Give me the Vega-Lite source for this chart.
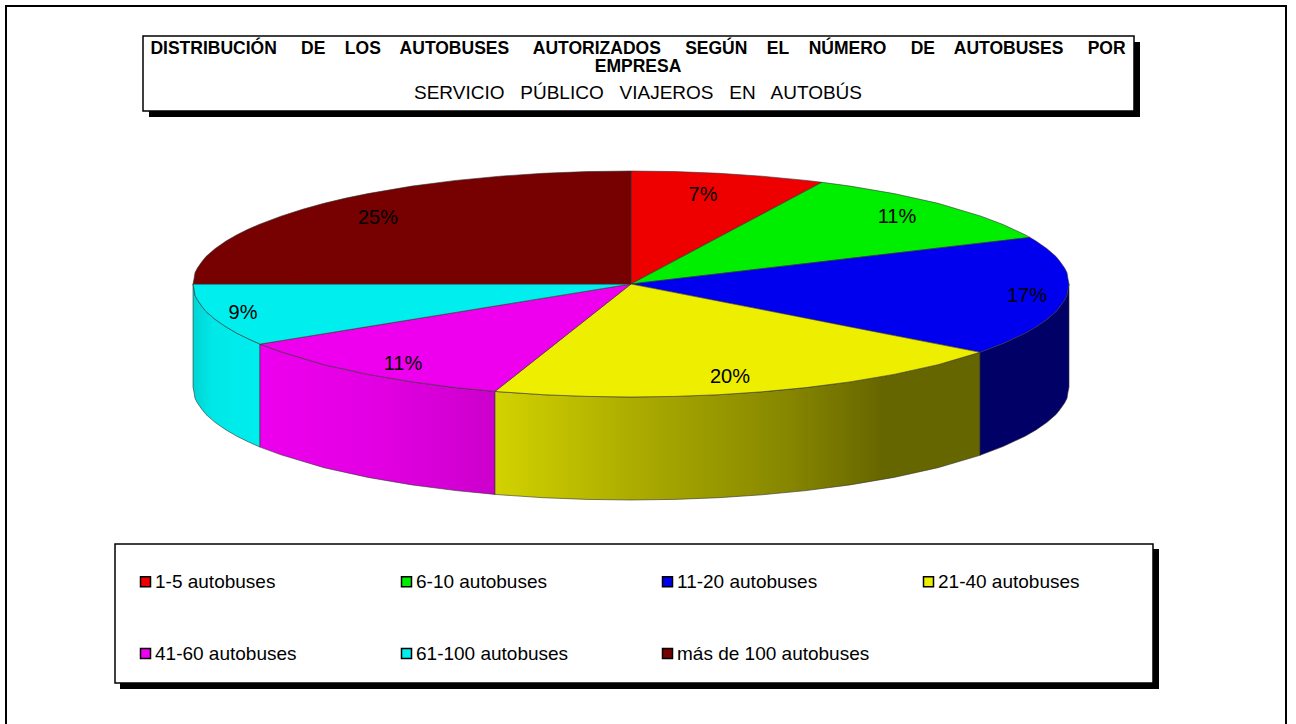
{
"$schema":"https://vega.github.io/schema/vega-lite/v6.json",
"width":1296,"height":724,"padding":0,"autosize":{"type":"none"},"background":"white",
"config":{"view":{"stroke":null},"font":"Liberation Sans"},
"title":{"text":["DISTRIBUCIÓN\u00a0\u00a0\u00a0\u00a0 DE\u00a0\u00a0\u00a0 LOS\u00a0\u00a0\u00a0 AUTOBUSES\u00a0\u00a0\u00a0\u00a0 AUTORIZADOS\u00a0\u00a0\u00a0\u00a0 SEGÚN\u00a0\u00a0\u00a0 EL\u00a0\u00a0\u00a0 NÚMERO\u00a0\u00a0\u00a0\u00a0 DE\u00a0\u00a0\u00a0 AUTOBUSES\u00a0\u00a0\u00a0\u00a0 POR","EMPRESA"],"subtitle":"SERVICIO\u00a0\u00a0 PÚBLICO\u00a0\u00a0 VIAJEROS\u00a0\u00a0 EN\u00a0\u00a0 AUTOBÚS","anchor":"middle","frame":"group","dx":-10,"dy":107,"zindex":2,"font":"Liberation Sans","fontSize":17.5,"fontWeight":"bold","color":"black","lineHeight":18,"subtitleFont":"Liberation Sans","subtitleFontSize":19,"subtitleColor":"black","subtitlePadding":9},
"datasets":{
"cajas":[
{"caja":"marco","x":6,"x2":1286,"y":6,"y2":740},
{"caja":"sombra título","x":149,"x2":1140,"y":42,"y2":117},
{"caja":"título","x":143,"x2":1134,"y":36,"y2":111},
{"caja":"sombra leyenda","x":120,"x2":1159,"y":549,"y2":689},
{"caja":"leyenda","x":115,"x2":1153,"y":544,"y2":683}
],
"porciones":[
{"categoria":"1-5 autobuses","x":631,"y":171,"y2":284},
{"categoria":"1-5 autobuses","x":675,"y":171.6,"y2":260.6},
{"categoria":"1-5 autobuses","x":719,"y":173.3,"y2":237.1},
{"categoria":"1-5 autobuses","x":762,"y":176.2,"y2":214.2},
{"categoria":"1-5 autobuses","x":806,"y":180.4,"y2":190.8},
{"categoria":"1-5 autobuses","x":822,"y":182.3,"y2":182.3},
{"categoria":"6-10 autobuses","x":631,"y":284,"y2":284},
{"categoria":"6-10 autobuses","x":822,"y":182.3,"y2":261.7},
{"categoria":"6-10 autobuses","x":850,"y":186.1,"y2":258.4},
{"categoria":"6-10 autobuses","x":894,"y":193.6,"y2":253.3},
{"categoria":"6-10 autobuses","x":938,"y":203.3,"y2":248.1},
{"categoria":"6-10 autobuses","x":981,"y":216.2,"y2":243.1},
{"categoria":"6-10 autobuses","x":1003,"y":224.5,"y2":240.6},
{"categoria":"6-10 autobuses","x":1025,"y":234.7,"y2":238},
{"categoria":"6-10 autobuses","x":1030,"y":237.4,"y2":237.4},
{"categoria":"11-20 autobuses","x":631,"y":284,"y2":284},
{"categoria":"11-20 autobuses","x":980,"y":243.2,"y2":352.3},
{"categoria":"11-20 autobuses","x":1003,"y":240.6,"y2":343.5},
{"categoria":"11-20 autobuses","x":1025,"y":238,"y2":333.3},
{"categoria":"11-20 autobuses","x":1030,"y":237.4,"y2":330.6},
{"categoria":"11-20 autobuses","x":1036,"y":241.1,"y2":326.9},
{"categoria":"11-20 autobuses","x":1047,"y":248.7,"y2":319.3},
{"categoria":"11-20 autobuses","x":1056,"y":256.5,"y2":311.5},
{"categoria":"11-20 autobuses","x":1060,"y":261.5,"y2":306.5},
{"categoria":"11-20 autobuses","x":1064.6,"y":268.1,"y2":299.9},
{"categoria":"11-20 autobuses","x":1067,"y":272.7,"y2":295.3},
{"categoria":"11-20 autobuses","x":1068,"y":278.9,"y2":289.1},
{"categoria":"11-20 autobuses","x":1069,"y":284,"y2":284},
{"categoria":"21-40 autobuses","x":495,"y":391.4,"y2":391.4},
{"categoria":"21-40 autobuses","x":500,"y":387.4,"y2":391.8},
{"categoria":"21-40 autobuses","x":543,"y":353.5,"y2":394.7},
{"categoria":"21-40 autobuses","x":587,"y":318.7,"y2":396.4},
{"categoria":"21-40 autobuses","x":631,"y":284,"y2":397},
{"categoria":"21-40 autobuses","x":675,"y":292.6,"y2":396.4},
{"categoria":"21-40 autobuses","x":719,"y":301.2,"y2":394.7},
{"categoria":"21-40 autobuses","x":762,"y":309.6,"y2":391.8},
{"categoria":"21-40 autobuses","x":806,"y":318.2,"y2":387.6},
{"categoria":"21-40 autobuses","x":850,"y":326.9,"y2":381.9},
{"categoria":"21-40 autobuses","x":894,"y":335.5,"y2":374.4},
{"categoria":"21-40 autobuses","x":938,"y":344.1,"y2":364.7},
{"categoria":"21-40 autobuses","x":980,"y":352.3,"y2":352.3},
{"categoria":"41-60 autobuses","x":260,"y":344.1,"y2":344.1},
{"categoria":"41-60 autobuses","x":281,"y":340.7,"y2":351.8},
{"categoria":"41-60 autobuses","x":324,"y":333.7,"y2":364.7},
{"categoria":"41-60 autobuses","x":368,"y":326.6,"y2":374.4},
{"categoria":"41-60 autobuses","x":412,"y":319.5,"y2":381.9},
{"categoria":"41-60 autobuses","x":456,"y":312.4,"y2":387.6},
{"categoria":"41-60 autobuses","x":495,"y":306,"y2":391.4},
{"categoria":"41-60 autobuses","x":631,"y":284,"y2":284},
{"categoria":"61-100 autobuses","x":193,"y":284,"y2":284},
{"categoria":"61-100 autobuses","x":194,"y":284,"y2":289.1},
{"categoria":"61-100 autobuses","x":195,"y":284,"y2":295.3},
{"categoria":"61-100 autobuses","x":197.4,"y":284,"y2":299.9},
{"categoria":"61-100 autobuses","x":202,"y":284,"y2":306.5},
{"categoria":"61-100 autobuses","x":206,"y":284,"y2":311.5},
{"categoria":"61-100 autobuses","x":215,"y":284,"y2":319.3},
{"categoria":"61-100 autobuses","x":226,"y":284,"y2":326.9},
{"categoria":"61-100 autobuses","x":237,"y":284,"y2":333.3},
{"categoria":"61-100 autobuses","x":248,"y":284,"y2":338.7},
{"categoria":"61-100 autobuses","x":260,"y":284,"y2":344.1},
{"categoria":"61-100 autobuses","x":631,"y":284,"y2":284},
{"categoria":"más de 100 autobuses","x":193,"y":284,"y2":284},
{"categoria":"más de 100 autobuses","x":194,"y":278.9,"y2":284},
{"categoria":"más de 100 autobuses","x":195,"y":272.7,"y2":284},
{"categoria":"más de 100 autobuses","x":197.4,"y":268.1,"y2":284},
{"categoria":"más de 100 autobuses","x":202,"y":261.5,"y2":284},
{"categoria":"más de 100 autobuses","x":206,"y":256.5,"y2":284},
{"categoria":"más de 100 autobuses","x":215,"y":248.7,"y2":284},
{"categoria":"más de 100 autobuses","x":226,"y":241.1,"y2":284},
{"categoria":"más de 100 autobuses","x":237,"y":234.7,"y2":284},
{"categoria":"más de 100 autobuses","x":248,"y":229.3,"y2":284},
{"categoria":"más de 100 autobuses","x":259,"y":224.5,"y2":284},
{"categoria":"más de 100 autobuses","x":281,"y":216.2,"y2":284},
{"categoria":"más de 100 autobuses","x":302.5,"y":209.3,"y2":284},
{"categoria":"más de 100 autobuses","x":324,"y":203.3,"y2":284},
{"categoria":"más de 100 autobuses","x":346,"y":198.1,"y2":284},
{"categoria":"más de 100 autobuses","x":368,"y":193.6,"y2":284},
{"categoria":"más de 100 autobuses","x":412,"y":186.1,"y2":284},
{"categoria":"más de 100 autobuses","x":456,"y":180.4,"y2":284},
{"categoria":"más de 100 autobuses","x":500,"y":176.2,"y2":284},
{"categoria":"más de 100 autobuses","x":543,"y":173.3,"y2":284},
{"categoria":"más de 100 autobuses","x":587,"y":171.6,"y2":284},
{"categoria":"más de 100 autobuses","x":631,"y":171,"y2":284}
],
"laterales":[
{"categoria":"61-100 autobuses","x":193,"y":284,"y2":387},
{"categoria":"61-100 autobuses","x":194,"y":289.1,"y2":392.1},
{"categoria":"61-100 autobuses","x":195,"y":295.3,"y2":398.3},
{"categoria":"61-100 autobuses","x":197.4,"y":299.9,"y2":402.9},
{"categoria":"61-100 autobuses","x":202,"y":306.5,"y2":409.5},
{"categoria":"61-100 autobuses","x":206,"y":311.5,"y2":414.5},
{"categoria":"61-100 autobuses","x":215,"y":319.3,"y2":422.3},
{"categoria":"61-100 autobuses","x":226,"y":326.9,"y2":429.9},
{"categoria":"61-100 autobuses","x":237,"y":333.3,"y2":436.3},
{"categoria":"61-100 autobuses","x":248,"y":338.7,"y2":441.7},
{"categoria":"61-100 autobuses","x":260,"y":344.1,"y2":447.1},
{"categoria":"41-60 autobuses","x":260,"y":344.1,"y2":447.1},
{"categoria":"41-60 autobuses","x":281,"y":351.8,"y2":454.8},
{"categoria":"41-60 autobuses","x":324,"y":364.7,"y2":467.7},
{"categoria":"41-60 autobuses","x":368,"y":374.4,"y2":477.4},
{"categoria":"41-60 autobuses","x":412,"y":381.9,"y2":484.9},
{"categoria":"41-60 autobuses","x":456,"y":387.6,"y2":490.6},
{"categoria":"41-60 autobuses","x":495,"y":391.4,"y2":494.4},
{"categoria":"21-40 autobuses","x":495,"y":391.4,"y2":494.4},
{"categoria":"21-40 autobuses","x":500,"y":391.8,"y2":494.8},
{"categoria":"21-40 autobuses","x":543,"y":394.7,"y2":497.7},
{"categoria":"21-40 autobuses","x":587,"y":396.4,"y2":499.4},
{"categoria":"21-40 autobuses","x":631,"y":397,"y2":500},
{"categoria":"21-40 autobuses","x":675,"y":396.4,"y2":499.4},
{"categoria":"21-40 autobuses","x":719,"y":394.7,"y2":497.7},
{"categoria":"21-40 autobuses","x":762,"y":391.8,"y2":494.8},
{"categoria":"21-40 autobuses","x":806,"y":387.6,"y2":490.6},
{"categoria":"21-40 autobuses","x":850,"y":381.9,"y2":484.9},
{"categoria":"21-40 autobuses","x":894,"y":374.4,"y2":477.4},
{"categoria":"21-40 autobuses","x":938,"y":364.7,"y2":467.7},
{"categoria":"21-40 autobuses","x":980,"y":352.3,"y2":455.3},
{"categoria":"11-20 autobuses","x":980,"y":352.3,"y2":455.3},
{"categoria":"11-20 autobuses","x":1003,"y":343.5,"y2":446.5},
{"categoria":"11-20 autobuses","x":1025,"y":333.3,"y2":436.3},
{"categoria":"11-20 autobuses","x":1036,"y":326.9,"y2":429.9},
{"categoria":"11-20 autobuses","x":1047,"y":319.3,"y2":422.3},
{"categoria":"11-20 autobuses","x":1056,"y":311.5,"y2":414.5},
{"categoria":"11-20 autobuses","x":1060,"y":306.5,"y2":409.5},
{"categoria":"11-20 autobuses","x":1064.6,"y":299.9,"y2":402.9},
{"categoria":"11-20 autobuses","x":1067,"y":295.3,"y2":398.3},
{"categoria":"11-20 autobuses","x":1068,"y":289.1,"y2":392.1},
{"categoria":"11-20 autobuses","x":1069,"y":284,"y2":387}
],
"etiquetas":[
{"categoria":"1-5 autobuses","porcentaje":"7%","x":703,"y":195},
{"categoria":"6-10 autobuses","porcentaje":"11%","x":897,"y":217},
{"categoria":"11-20 autobuses","porcentaje":"17%","x":1027,"y":296},
{"categoria":"21-40 autobuses","porcentaje":"20%","x":730,"y":377},
{"categoria":"41-60 autobuses","porcentaje":"11%","x":403,"y":364},
{"categoria":"61-100 autobuses","porcentaje":"9%","x":243,"y":313},
{"categoria":"más de 100 autobuses","porcentaje":"25%","x":378,"y":218}
]
},
"encoding":{
"x":{"field":"x","type":"quantitative","scale":{"domain":[0,1296],"nice":false,"zero":false},"axis":null},
"y":{"field":"y","type":"quantitative","scale":{"domain":[724,0],"nice":false,"zero":false},"axis":null,"stack":null}
},
"layer":[
{"data":{"name":"cajas"},"transform":[{"filter":"datum.caja=='marco'"}],"mark":{"type":"rect","fill":"white","stroke":"black","strokeWidth":2},"encoding":{"x2":{"field":"x2"},"y2":{"field":"y2"}}},
{"data":{"name":"laterales"},"transform":[{"filter":"datum.categoria=='61-100 autobuses'"}],"mark":{"type":"area","stroke":"#333333","strokeWidth":0.6,"color":{"gradient":"linear","x1":0,"x2":1,"y1":0,"y2":0,"stops":[{"offset":0,"color":"#00d4d4"},{"offset":0.3,"color":"#00e8e8"},{"offset":1,"color":"#00eeee"}]}},"encoding":{"y2":{"field":"y2"}}},
{"data":{"name":"laterales"},"transform":[{"filter":"datum.categoria=='41-60 autobuses'"}],"mark":{"type":"area","stroke":"#333333","strokeWidth":0.6,"color":{"gradient":"linear","x1":0,"x2":1,"y1":0,"y2":0,"stops":[{"offset":0,"color":"#ee00ee"},{"offset":0.5,"color":"#e200e2"},{"offset":1,"color":"#cc00cc"}]}},"encoding":{"y2":{"field":"y2"}}},
{"data":{"name":"laterales"},"transform":[{"filter":"datum.categoria=='21-40 autobuses'"}],"mark":{"type":"area","stroke":"#333333","strokeWidth":0.6,"color":{"gradient":"linear","x1":0,"x2":1,"y1":0,"y2":0,"stops":[{"offset":0,"color":"#d2d200"},{"offset":0.3,"color":"#aaaa00"},{"offset":0.6,"color":"#878700"},{"offset":0.8,"color":"#666600"},{"offset":1,"color":"#666600"}]}},"encoding":{"y2":{"field":"y2"}}},
{"data":{"name":"laterales"},"transform":[{"filter":"datum.categoria=='11-20 autobuses'"}],"mark":{"type":"area","stroke":"#333333","strokeWidth":0.6,"color":"#000066"},"encoding":{"y2":{"field":"y2"}}},
{"data":{"name":"porciones"},"mark":{"type":"area","stroke":"#333333","strokeWidth":0.6,"opacity":1},"encoding":{"y2":{"field":"y2"},
"color":{"field":"categoria","type":"nominal","scale":{"domain":["1-5 autobuses","6-10 autobuses","11-20 autobuses","21-40 autobuses","41-60 autobuses","61-100 autobuses","más de 100 autobuses"],"range":["#ee0000","#00ee00","#0000ee","#eeee00","#ee00ee","#00eeee","#770000"]},
"legend":{"title":null,"orient":"none","direction":"horizontal","legendX":136,"legendY":572,"columns":4,"gridAlign":"all","columnPadding":49,"rowPadding":52,"symbolType":"square","symbolSize":100,"symbolStrokeColor":"black","symbolStrokeWidth":1.5,"labelFont":"Liberation Sans","labelFontSize":19,"labelColor":"black","labelOffset":0,"labelLimit":300,"zindex":3,"values":["1-5 autobuses","6-10 autobuses","11-20 autobuses","21-40 autobuses","41-60 autobuses","61-100 autobuses","más de 100 autobuses"]}}}},
{"data":{"name":"etiquetas"},"mark":{"type":"text","font":"Liberation Sans","fontSize":20,"color":"black","align":"center","baseline":"middle"},"encoding":{"text":{"field":"porcentaje"}}},
{"data":{"name":"cajas"},"transform":[{"filter":"datum.caja=='sombra título' || datum.caja=='sombra leyenda'"}],"mark":{"type":"rect","fill":"black"},"encoding":{"x2":{"field":"x2"},"y2":{"field":"y2"}}},
{"data":{"name":"cajas"},"transform":[{"filter":"datum.caja=='título' || datum.caja=='leyenda'"}],"mark":{"type":"rect","fill":"white","stroke":"black","strokeWidth":1.5},"encoding":{"x2":{"field":"x2"},"y2":{"field":"y2"}}}
]
}
